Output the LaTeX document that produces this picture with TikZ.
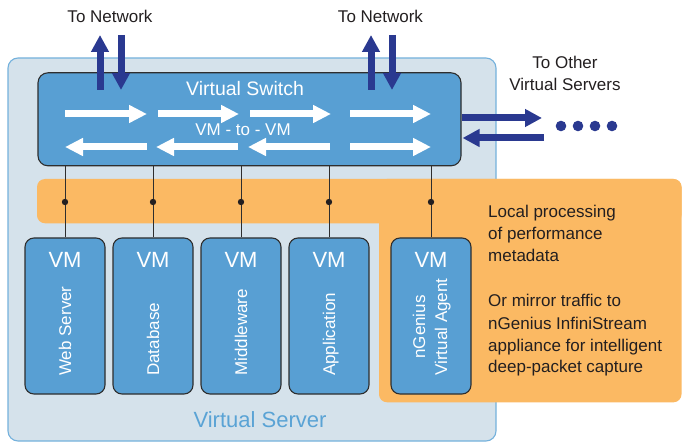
\documentclass[tikz,border=0pt]{standalone}
\usepackage{fontspec}
\setmainfont{Liberation Sans}
\usetikzlibrary{arrows.meta}

\definecolor{srvfill}{HTML}{D5E2EB}
\definecolor{srvedge}{HTML}{74B1DC}
\definecolor{boxblue}{HTML}{589FD3}
\definecolor{edgegray}{HTML}{2E2E2E}
\definecolor{procorange}{HTML}{FBB963}
\definecolor{navy}{HTML}{2A3990}
\definecolor{textdark}{HTML}{231F20}
\definecolor{srvtext}{HTML}{5AA3D5}

\begin{document}
\begin{tikzpicture}[x=1pt,y=-1pt,
  vmbox/.style={draw=edgegray, line width=1.1pt, fill=boxblue, rounded corners=9pt,
    minimum width=80pt, minimum height=156pt, inner sep=0pt},
  vmhead/.style={text=white, font=\fontsize{22}{26}\selectfont, inner sep=0pt, anchor=base},
  vmrole/.style={text=white, font=\fontsize{17}{22}\selectfont, inner sep=0pt, rotate=90},
  flow/.style={white, line width=7pt, -{Triangle[width=17pt,length=18pt]}},
  link/.style={navy, line width=7pt, -{Triangle[width=17pt,length=17pt]}},
  lbl/.style={text=textdark, font=\fontsize{17}{22}\selectfont, inner sep=0pt},
  tap/.style={draw=edgegray, line width=0.8pt},
  tapdot/.style={fill=textdark}
]
\useasboundingbox (0,0) rectangle (682,443);

% host enclosure
\node[draw=srvedge, line width=1.1pt, fill=srvfill, rounded corners=10pt,
  minimum width=488pt, minimum height=383pt, inner sep=0pt] (vs) at (252,249.5) {};
\node[text=srvtext, font=\fontsize{22}{26}\selectfont, inner sep=0pt, anchor=base] (vslabel) at (260,427) {Virtual Server};

% monitoring layer (L-shaped band)
\fill[procorange, rounded corners=8pt] (37,179) rectangle (681.5,223.3);
\fill[procorange, rounded corners=8pt] (379,179) rectangle (681.5,402.3);

% switch
\node[draw=edgegray, line width=1.1pt, fill=boxblue, rounded corners=10pt,
  minimum width=423pt, minimum height=93pt, inner sep=0pt] (sw) at (249.5,119.3) {};
\node[text=white, font=\fontsize{19.5}{23}\selectfont, inner sep=0pt, anchor=base] (swlabel) at (245,96) {Virtual Switch};
\node[text=white, font=\fontsize{17}{22}\selectfont, inner sep=0pt, anchor=base] (v2v) at (243,136) {VM - to - VM};

% virtual machines
\node[vmbox] (vm1) at (65,316) {};
\node[vmbox] (vm2) at (153,316) {};
\node[vmbox] (vm3) at (241,316) {};
\node[vmbox] (vm4) at (329,316) {};
\node[vmbox] (vm5) at (431,316) {};

\coordinate (tapline) at (0,202);
\foreach \v in {vm1,vm2,vm3,vm4,vm5}{
  \draw[tap] (\v.north) -- (\v.north |- sw.south);
  \fill[tapdot] (\v.north |- tapline) circle (3.2pt);
  \node[vmhead] at (\v.north |- 0,268) {VM};
}

\node[vmrole, anchor=base west] (r1) at (71,376) {Web Server};
\node[vmrole, anchor=base west] (r2) at (159,376) {Database};
\node[vmrole, anchor=base west] (r3) at (247,376) {Middleware};
\node[vmrole, anchor=base west] (r4) at (335,376) {Application};
\node[vmrole, anchor=center] (r5) at (431.6,327)
  {\begin{tabular}{@{}c@{}}nGenius\\Virtual Agent\end{tabular}};

% VM-to-VM traffic inside the switch
\draw[flow] (65,114) -- (147,114);
\draw[flow] (158,114) -- (239,114);
\draw[flow] (250,114) -- (331,114);
\draw[flow] (350,114) -- (431,114);
\draw[flow] (147,147) -- (65,147);
\draw[flow] (238,147) -- (156,147);
\draw[flow] (330,147) -- (248,147);
\draw[flow] (350,147) -- (431,147);

% uplinks
\coordinate (up1a) at (100,90);   \coordinate (up1b) at (100,35);
\coordinate (dn1a) at (121,35);   \coordinate (dn1b) at (121,90);
\coordinate (up2a) at (371,90);   \coordinate (up2b) at (371,35);
\coordinate (dn2a) at (392,35);   \coordinate (dn2b) at (392,90);
\draw[link] (up1a) -- (up1b);
\draw[link] (dn1a) -- (dn1b);
\draw[link] (up2a) -- (up2b);
\draw[link] (dn2a) -- (dn2b);

% links to other servers
\coordinate (eastout) at (542,118);
\coordinate (eastin) at (544,138);
\draw[link] (sw.east |- eastout) -- (eastout);
\draw[link] (eastin) -- ([xshift=1pt]sw.east |- eastin);
\foreach \px [count=\i] in {561,578,595,612}
  \fill[navy] (\px,126) circle (5.3pt);

% captions
\node[lbl, anchor=base] (net1) at (110,23) {To Network};
\node[lbl, anchor=base] (net2) at (380.5,23) {To Network};
\node[lbl, anchor=base] (others) at (565,69)
  {\begin{tabular}[t]{@{}c@{}}To Other\\Virtual Servers\end{tabular}};
\node[lbl, anchor=base west] (note1) at (488,218)
  {\begin{tabular}[t]{@{}l@{}}Local processing\\of performance\\metadata\end{tabular}};
\node[lbl, anchor=base west] (note2) at (488,307)
  {\begin{tabular}[t]{@{}l@{}}Or mirror traffic to\\nGenius InfiniStream\\appliance for intelligent\\deep-packet capture\end{tabular}};
\end{tikzpicture}
\end{document}
